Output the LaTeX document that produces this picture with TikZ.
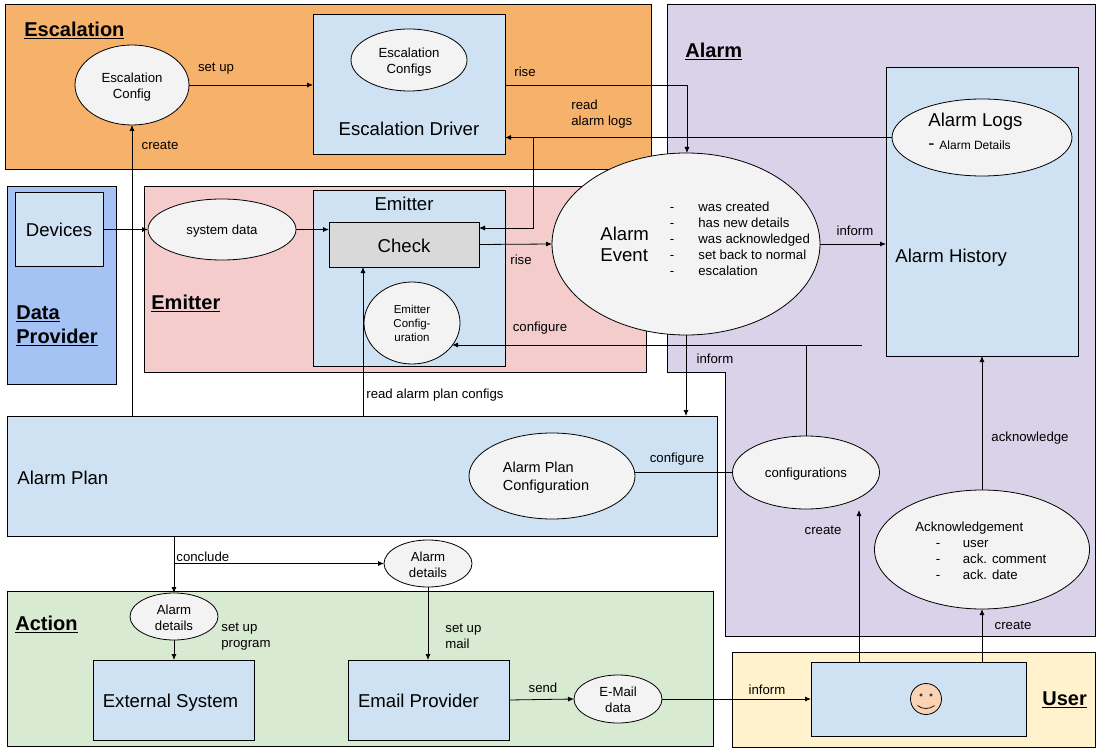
\documentclass[tikz,border=0pt]{standalone}
\usepackage{fontspec}
\setmainfont{Liberation Sans}
\usetikzlibrary{positioning, shapes.geometric, arrows.meta}
\definecolor{zoneorange}{HTML}{F6B26B}
\definecolor{zonepurple}{HTML}{D9D2E9}
\definecolor{zoneblue}{HTML}{A4C2F4}
\definecolor{zonered}{HTML}{F4CCCC}
\definecolor{zonegreen}{HTML}{D9EAD3}
\definecolor{zoneyellow}{HTML}{FFF2CC}
\definecolor{boxblue}{HTML}{CFE2F3}
\definecolor{bubblegray}{HTML}{F3F3F3}
\definecolor{checkgray}{HTML}{D9D9D9}
\definecolor{facecolor}{HTML}{F9D3B4}
\newcommand{\bigtxt}{\fontsize{18.6}{21}\selectfont}
\newcommand{\smalltxt}{\fontsize{13.2}{16}\selectfont}
\newcommand{\dashrow}[1]{\makebox[27pt][l]{-}#1}
\newcommand{\lowered}[1]{\rule{0pt}{#1}}

\begin{document}
\begin{tikzpicture}[x=1pt, y=-1pt, line width=0.8pt,
        area/.style={draw, inner sep=0pt, outer sep=0pt},
        boxtext/.style={font=\bigtxt, text height=16pt, text depth=1pt},
        bubble/.style={draw, ellipse, fill=bubblegray, inner sep=0pt, outer sep=0pt, align=center, font=\smalltxt},
        heading/.style={font=\fontsize{20}{23}\selectfont\bfseries, align=left, inner sep=0pt},
        bigtext/.style={font=\bigtxt, inner sep=0pt, align=left},
        note/.style={font=\smalltxt, inner sep=0pt, align=left, yshift=-0.7pt},
        flow/.style={-{Latex[length=6pt,width=5pt]}}]
    \useasboundingbox (0,0) rectangle (1102,751);

    \node[area, fill=zoneorange, minimum width=646pt, minimum height=165pt] (escalationzone) at (328,86.5) {};
    \draw[fill=zonepurple] (667,4) -- (1095,4) -- (1095,636) -- (725,636) -- (725,372) -- (667,372) -- cycle;
    \node[area, fill=zoneblue, minimum width=109pt, minimum height=198pt] (providerzone) at (61.5,285) {};
    \node[area, fill=zonered, minimum width=502pt, minimum height=186pt] (emitterzone) at (395,279) {};
    \node[area, fill=zonegreen, minimum width=706pt, minimum height=155pt] (actionzone) at (360,668.5) {};
    \node[area, fill=zoneyellow, minimum width=363pt, minimum height=95pt] (userzone) at (913.5,699.5) {};

    \node[area, fill=boxblue, minimum width=192pt, minimum height=140pt] (driver) at (409,84) {};
    \node[area, boxtext, fill=boxblue, minimum width=88pt, minimum height=74pt] (devices) at (59,229) {Devices};
    \node[area, fill=boxblue, minimum width=192pt, minimum height=176pt] (emitter) at (409,278) {};
    \node[area, boxtext, fill=checkgray, minimum width=150pt, minimum height=45pt] (check) at (404,244.5) {Check};
    \node[area, fill=boxblue, minimum width=192pt, minimum height=289pt] (history) at (982,211.5) {};
    \node[area, fill=boxblue, minimum width=710pt, minimum height=120pt] (plan) at (362,476) {};
    \node[area, boxtext, fill=boxblue, minimum width=161pt, minimum height=80pt] (external) at (173.5,700) {\hspace*{-6pt}External System};
    \node[area, boxtext, fill=boxblue, minimum width=161pt, minimum height=80pt] (provider) at (428.5,700) {\hspace*{-20pt}Email Provider};
    \node[area, fill=boxblue, minimum width=215pt, minimum height=74pt] (userbox) at (918.5,699) {};

    \node[bubble, minimum width=114pt, minimum height=80pt] (escconfig) at (132,85) {\lowered{14pt}Escalation\\Config};
    \node[bubble, minimum width=116pt, minimum height=62pt] (escconfigs) at (409,60) {\lowered{14pt}Escalation\\Configs};
    \node[bubble, minimum width=180pt, minimum height=77pt] (logs) at (982,137.5) {};
    \node[bubble, minimum width=268pt, minimum height=182pt] (event) at (686,244) {};
    \node[bubble, minimum width=148pt, minimum height=61pt] (sysdata) at (222,229.5) {\lowered{12pt}system data};
    \node[bubble, minimum width=96pt, minimum height=82pt, font=\fontsize{11.5}{14}\selectfont] (emitconfig) at (412,323) {Emitter\\Config-\\uration};
    \node[bubble, minimum width=166pt, minimum height=86pt, font=\fontsize{14.5}{18}\selectfont, align=left] (planconfig) at (552,476) {\lowered{15pt}Alarm Plan\\Configuration\hspace*{12pt}};
    \node[bubble, minimum width=147pt, minimum height=73pt] (configs) at (806,472.5) {\lowered{12pt}configurations};
    \node[bubble, minimum width=215pt, minimum height=119pt] (ack) at (982,549.5) {};
    \node[bubble, minimum width=88pt, minimum height=47pt] (detailsmail) at (428,563.5) {\lowered{12pt}Alarm\\details};
    \node[bubble, minimum width=88pt, minimum height=47pt] (detailsprog) at (174,616.5) {\lowered{12pt}Alarm\\details};
    \node[bubble, minimum width=88pt, minimum height=48pt] (maildata) at (618,699) {\lowered{12pt}E-Mail\\data};
    \node[circle, draw, fill=facecolor, minimum size=31pt, inner sep=0pt] (smiley) at (926,699) {};
    \draw[fill=facecolor, line width=0.5pt] (921,695) circle (1.3pt) (931,695) circle (1.3pt);
    \draw[line width=0.7pt] (917.5,705.5) .. controls (922,709.5) and (930,709.5) .. (934.5,705.5);

    \node[heading, anchor=west] (titleescalation) at (24,30) {\underline{Escalation}};
    \node[heading, anchor=west] (titlealarm) at (685,51) {\underline{Alarm}};
    \node[heading, anchor=north west] (titleprovider) at (16,305) {\underline{Data}\\[1pt]\underline{Provider}};
    \node[heading, anchor=west] (titleemitter) at (151,303) {\underline{Emitter}};
    \node[heading, anchor=west] (titleaction) at (15,624) {\underline{Action}};
    \node[heading, anchor=west] (titleuser) at (1042,700) {\underline{User}};

    \node[bigtext] (drivertext) at (409,129) {Escalation Driver};
    \node[bigtext] (emittertext) at (404,204) {Emitter};
    \node[bigtext, anchor=west] (historytext) at (895,258) {Alarm History};
    \node[bigtext, anchor=west] (plantext) at (17,478) {Alarm Plan};
    \node[bigtext, anchor=west] (logstext) at (928,122) {Alarm Logs};
    \node[anchor=west, inner sep=0pt, font=\bigtxt] (logsdash) at (928,147) {-};
    \node[anchor=west, inner sep=0pt, font=\fontsize{12}{14}\selectfont] (logsdetail) at (939,145) {Alarm Details};
    \node[bigtext, anchor=west] (eventtext) at (600,244.5) {Alarm\\Event};
    \node[note, anchor=west, yshift=0.7pt] (eventlist) at (669.5,239) {\makebox[28.5pt][l]{-}was created\\\makebox[28.5pt][l]{-}has new details\\\makebox[28.5pt][l]{-}was acknowledged\\\makebox[28.5pt][l]{-}set back to normal\\\makebox[28.5pt][l]{-}escalation};
    \node[note, anchor=north west] (acktext) at (915,520.5) {Acknowledgement\\\hspace*{20.5pt}\dashrow{user}\\\hspace*{20.5pt}\dashrow{ack. comment}\\\hspace*{20.5pt}\dashrow{ack. date}};

    \coordinate (logsbranch) at (533,138.5);
    \coordinate (checkin) at (533,228);
    \coordinate (risecorner) at (687,85);
    \coordinate (configleft) at (862,345);
    \coordinate (configbranch) at (806,345);
    \coordinate (emitconfigtip) at (452,345);
    \coordinate (readplan) at (363,400);
    \coordinate (concludebranch) at (174.5,563.5);
    \coordinate (createend) at (859,510);

    \draw[flow] (escconfig.east) -- (escconfig.east -| driver.west);
    \draw[flow] (driver.east |- risecorner) -- (risecorner) -- (event.north -| risecorner);
    \draw[flow] (logs.west) -- (driver.east |- logs.west);
    \draw[flow] (logsbranch) -- (checkin) -- (check.east |- checkin);
    \draw[flow] (devices.east |- sysdata) -- (sysdata.west);
    \draw[flow] (sysdata.east) -- (check.west |- sysdata);
    \draw[flow] (check.east) -- (event.west);
    \draw[flow] (event.east) -- (history.west |- event.east);
    \draw[flow] (event.south) -- (event.south |- plan.north);
    \draw[flow] (configleft) -- (emitconfigtip);
    \draw (configs.north) -- (configbranch);
    \draw (planconfig.east |- configs) -- (configs.west);
    \draw[flow] (escconfig |- plan.north) -- (escconfig.south);
    \draw[flow] (readplan |- plan.north) -- (readplan |- check.south);
    \draw[flow] (detailsprog |- plan.south) -- (detailsprog.north);
    \draw[flow] (concludebranch) -- (detailsmail.west);
    \draw[flow] (detailsprog.south) -- (detailsprog |- external.north);
    \draw[flow] (detailsmail.south) -- (detailsmail |- provider.north);
    \draw[flow] (provider.east) -- (maildata.west);
    \draw[flow] (maildata.east) -- (userbox.west);
    \draw[flow] (createend |- userbox.north) -- (createend);
    \draw[flow] (ack |- userbox.north) -- (ack.south);
    \draw[flow] (ack.north) -- (ack |- history.south);

    \node[note] (lblsetup) at (216,68) {set up};
    \node[note] (lblrisedriver) at (525,71) {rise};
    \node[note, anchor=west] (lblreadlogs) at (571,113) {read\\alarm logs};
    \node[note] (lblrisecheck) at (521,259) {rise};
    \node[note] (lblinformhistory) at (855,230) {inform};
    \node[note] (lblinformplan) at (715,358) {inform};
    \node[note] (lblconfigemitter) at (540,327) {configure};
    \node[note] (lblconfigplan) at (677,458) {configure};
    \node[note] (lblcreateesc) at (160,145) {create};
    \node[note, anchor=west] (lblreadplan) at (366,394) {read alarm plan configs};
    \node[note, anchor=west] (lblconclude) at (176,556) {conclude};
    \node[note, anchor=west] (lblsetupprog) at (221,636) {set up\\program};
    \node[note, anchor=west] (lblsetupmail) at (445,636) {set up\\mail};
    \node[note] (lblsend) at (543,687) {send};
    \node[note] (lblinformuser) at (767,689) {inform};
    \node[note] (lblcreateconfigs) at (823,530) {create};
    \node[note] (lblcreateack) at (1013,625) {create};
    \node[note] (lblack) at (1030,437) {acknowledge};
\end{tikzpicture}
\end{document}
